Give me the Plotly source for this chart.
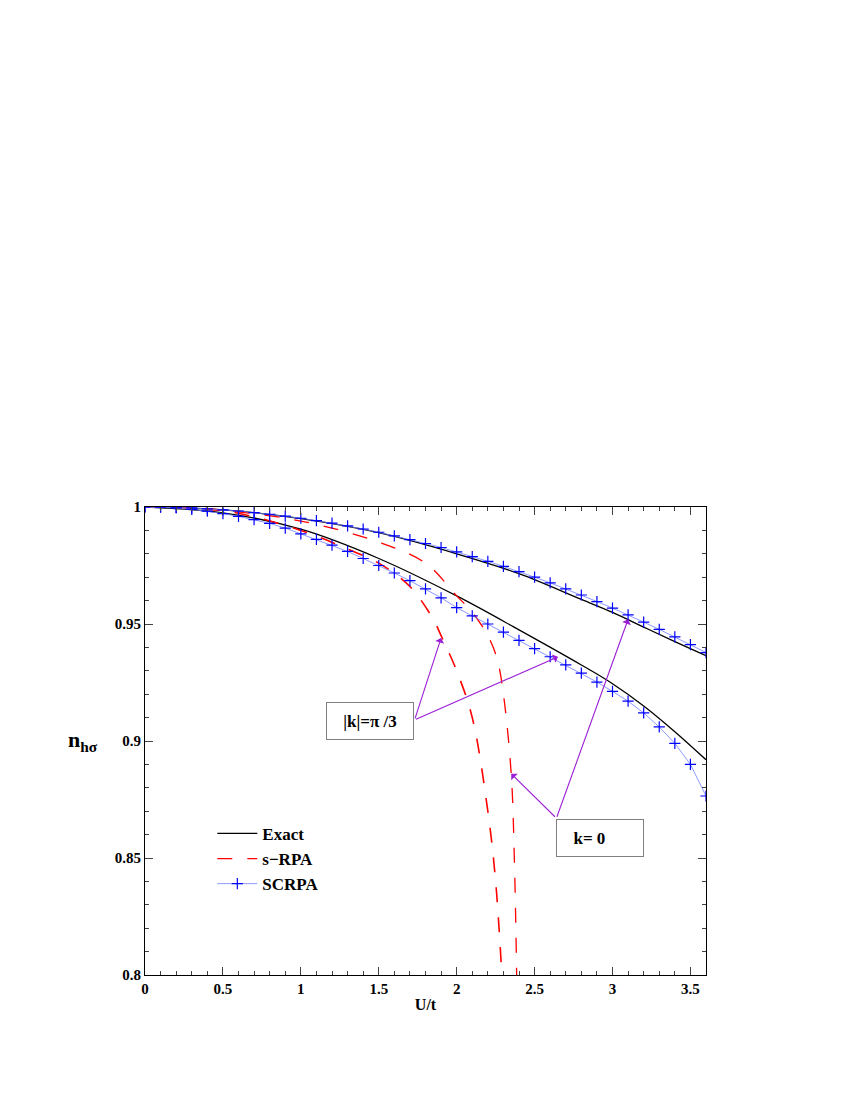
import plotly.graph_objects as go

x_sc = [round(0.1*i, 1) for i in range(37)]
scrpa_k0 = [1.0, 1.0, 0.9998, 0.9996, 0.9992, 0.9988, 0.9983, 0.9976, 0.9969, 0.9961, 0.9952,
            0.9942, 0.9931, 0.9919, 0.9906, 0.9892, 0.9877, 0.9861, 0.9844, 0.9827, 0.9808,
            0.9788, 0.9768, 0.9746, 0.9724, 0.9700, 0.9676, 0.9650, 0.9624, 0.9596, 0.9568,
            0.9539, 0.9508, 0.9477, 0.9445, 0.9412, 0.9378]
scrpa_pi3 = [1.0, 0.9999, 0.9996, 0.999, 0.9982, 0.9972, 0.996, 0.9946, 0.993, 0.991, 0.9885,
             0.9862, 0.9837, 0.981, 0.978, 0.975, 0.9718, 0.9685, 0.965, 0.9612, 0.957,
             0.9535, 0.95, 0.9465, 0.943, 0.9395, 0.936, 0.9325, 0.929, 0.9252, 0.9212,
             0.917, 0.912, 0.906, 0.899, 0.89, 0.8765]

x_ex = [0, 0.5, 1.0, 1.5, 2.0, 2.4, 2.8, 3.0, 3.2, 3.4, 3.6]
exact_k0 = [1.0, 0.9988, 0.995, 0.989, 0.980, 0.9715, 0.9605, 0.955, 0.9487, 0.9425, 0.9365]
exact_pi3 = [1.0, 0.9975, 0.9905, 0.978, 0.962, 0.9475, 0.9325, 0.9245, 0.915, 0.904, 0.892]

x_rpa_pi3 = [0, 0.5, 1.0, 1.3, 1.5, 1.7, 1.85, 1.9, 2.0, 2.1, 2.2, 2.25, 2.29]
rpa_pi3 = [1.0, 0.9985, 0.990, 0.982, 0.976, 0.966, 0.952, 0.945, 0.93, 0.91, 0.87, 0.84, 0.80]
x_rpa_k0 = [0, 0.5, 1.0, 1.5, 1.8, 2.0, 2.1, 2.2, 2.26, 2.3, 2.35, 2.37, 2.385]
rpa_k0 = [1.0, 0.9985, 0.994, 0.985, 0.976, 0.962, 0.955, 0.945, 0.935, 0.92, 0.886, 0.85, 0.80]

font = dict(family="Liberation Serif", size=16, color="black")
fig = go.Figure()
fig.add_trace(go.Scatter(x=x_ex, y=exact_k0, mode="lines", line=dict(color="black", width=1.3, shape="spline"), name="<b>Exact</b>"))
fig.add_trace(go.Scatter(x=x_ex, y=exact_pi3, mode="lines", line=dict(color="black", width=1.3, shape="spline"), showlegend=False))
fig.add_trace(go.Scatter(x=x_rpa_k0, y=rpa_k0, mode="lines", line=dict(color="red", width=1.3, dash="longdash", shape="spline"), name="<b>s\u2212RPA</b>"))
fig.add_trace(go.Scatter(x=x_rpa_pi3, y=rpa_pi3, mode="lines", line=dict(color="red", width=1.6, dash="longdash", shape="spline"), showlegend=False))
fig.add_trace(go.Scatter(x=x_sc, y=scrpa_k0, mode="lines+markers", line=dict(color="#6f7fff", width=0.8),
                         marker=dict(symbol="cross-thin", size=8, line=dict(color="blue", width=1.2)), name="<b>SCRPA</b>"))
fig.add_trace(go.Scatter(x=x_sc, y=scrpa_pi3, mode="lines+markers", line=dict(color="#6f7fff", width=0.8),
                         marker=dict(symbol="cross-thin", size=8, line=dict(color="blue", width=1.2)), showlegend=False))

purple = "#9b1fd6"
arrows = [((1.73, 0.909), (1.9, 0.944)), ((1.73, 0.909), (2.65, 0.936)),
          ((2.64, 0.867), (2.35, 0.886)), ((2.64, 0.867), (3.1, 0.952))]
anns = []
for (ax_, ay_), (tx, ty) in arrows:
    anns.append(dict(x=tx, y=ty, ax=ax_, ay=ay_, xref="x", yref="y", axref="x", ayref="y", text="",
                     showarrow=True, arrowhead=1, arrowsize=1.4, arrowwidth=1.1, arrowcolor=purple))
anns.append(dict(x=1.445, y=0.9085, xref="x", yref="y", text="<b>|k|=\u03c0 /3</b>", showarrow=False,
                 font=dict(family="Liberation Serif", size=17), bordercolor="gray", borderwidth=1,
                 width=84, height=34, bgcolor="white"))
anns.append(dict(x=2.92, y=0.8585, xref="x", yref="y", text="<b>k= 0</b>     ", showarrow=False,
                 font=dict(family="Liberation Serif", size=17), bordercolor="gray", borderwidth=1,
                 width=84, height=34, bgcolor="white"))
anns.append(dict(x=-0.14, y=0.5, xref="paper", yref="paper", text="<b>n<sub>h\u03c3</sub></b>", showarrow=False,
                 font=dict(family="Liberation Serif", size=22)))

axis_common = dict(showline=True, linecolor="black", linewidth=1, mirror="allticks", ticks="inside",
                   ticklen=8, showgrid=False, zeroline=False, tickfont=dict(family="Liberation Serif", size=15),
                   minor=dict(ticks="inside", ticklen=4, showgrid=False))
fig.update_xaxes(range=[0, 3.6], dtick=0.5, tick0=0, minor_dtick=0.1, tickformat="~g",
                 title=dict(text="<b>U/t</b>", font=dict(family="Liberation Serif", size=16), standoff=2), **axis_common)
fig.update_yaxes(range=[0.8, 1.0], dtick=0.05, tick0=0.8, minor_dtick=0.01, tickformat="~g", **axis_common)
fig.update_xaxes(tickprefix="<b>", ticksuffix="</b>")
fig.update_yaxes(tickprefix="<b>", ticksuffix="</b>")

fig.update_layout(width=850, height=1100, paper_bgcolor="white", plot_bgcolor="white",
                  margin=dict(l=137, r=152, t=499, b=133), font=font, annotations=anns,
                  legend=dict(x=0.12, y=0.34, xanchor="left", yanchor="top", bgcolor="rgba(0,0,0,0)",
                              font=dict(family="Liberation Serif", size=17), tracegroupgap=0, itemwidth=40))
fig.write_html("out.html")
